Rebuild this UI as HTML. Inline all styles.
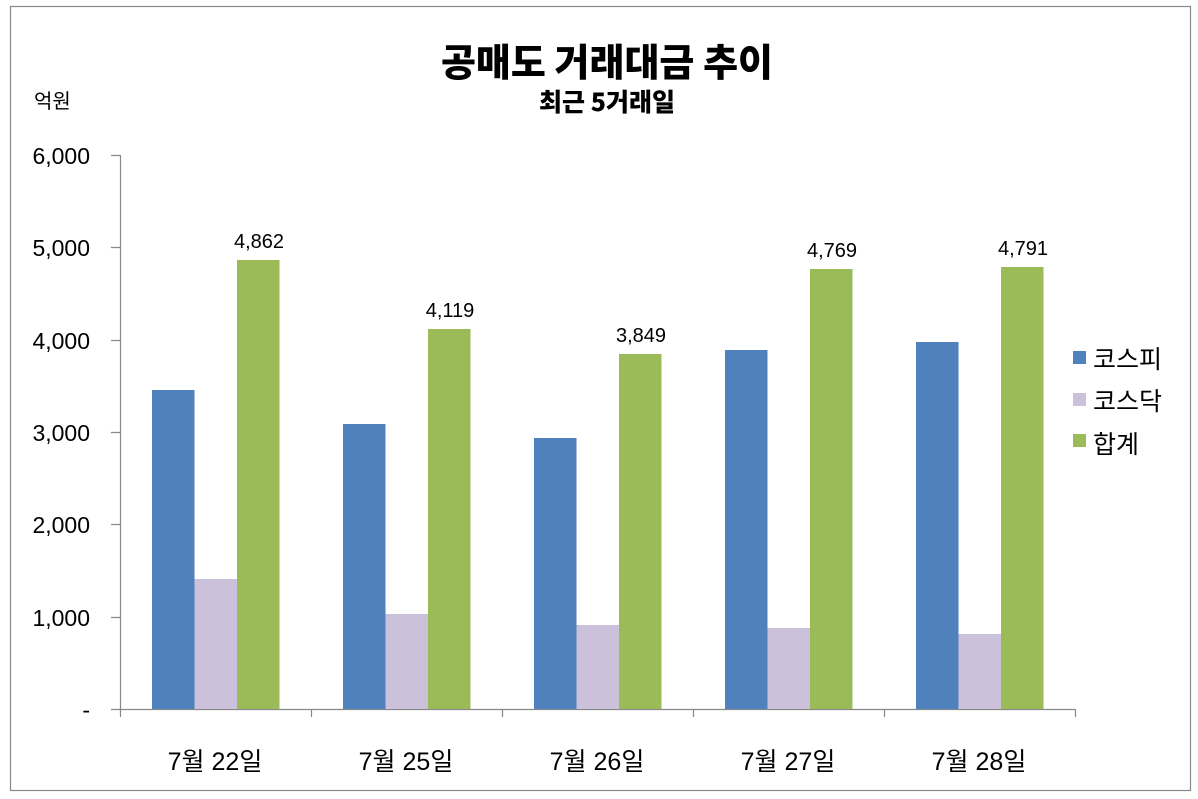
<!DOCTYPE html><html><head><meta charset="utf-8"><style>body{margin:0;background:#fff}svg{display:block}</style></head><body>
<svg width="1198" height="799" xmlns="http://www.w3.org/2000/svg" font-family="'Liberation Sans','Noto Sans CJK KR',sans-serif">
<rect x="10.5" y="6.5" width="1180" height="784" fill="#fff" stroke="#888" stroke-width="1.2"/>
<text x="607" y="76" text-anchor="middle" font-size="38" font-weight="900" font-family="'Noto Sans CJK KR',sans-serif">공매도 거래대금 추이</text>
<text x="607" y="111" text-anchor="middle" font-size="25" font-weight="900" font-family="'Noto Sans CJK KR',sans-serif">최근 5거래일</text>
<text x="34" y="108" font-size="20" font-family="'Noto Sans CJK KR',sans-serif">억원</text>
<g stroke="#888" stroke-width="1.2" fill="none">
<path d="M120.5 155V709.5H1075"/>
<path d="M111 155.5H120M111 247.5H120M111 340.5H120M111 432.5H120M111 524.5H120M111 617.5H120M111 709.5H120"/>
<path d="M120.5 709V717M311.5 709V717M502.5 709V717M693.5 709V717M884.5 709V717M1075.5 709V717"/>
</g>
<g font-size="23" text-anchor="end">
<text x="90" y="164">6,000</text><text x="90" y="256">5,000</text><text x="90" y="349">4,000</text><text x="90" y="441">3,000</text><text x="90" y="533">2,000</text><text x="90" y="626">1,000</text><text x="90" y="718">-</text>
</g>
<g>
<rect x="152" y="390" width="42.5" height="319" fill="#4F81BD"/><rect x="194.5" y="579" width="42.5" height="130" fill="#CCC1DA"/><rect x="237" y="260" width="42.5" height="449" fill="#9BBB59"/>
<rect x="343" y="424" width="42.5" height="285" fill="#4F81BD"/><rect x="385.5" y="614" width="42.5" height="95" fill="#CCC1DA"/><rect x="428" y="329" width="42.5" height="380" fill="#9BBB59"/>
<rect x="534" y="438" width="42.5" height="271" fill="#4F81BD"/><rect x="576.5" y="625" width="42.5" height="84" fill="#CCC1DA"/><rect x="619" y="354" width="42.5" height="355" fill="#9BBB59"/>
<rect x="725" y="350" width="42.5" height="359" fill="#4F81BD"/><rect x="767.5" y="628" width="42.5" height="81" fill="#CCC1DA"/><rect x="810" y="269" width="42.5" height="440" fill="#9BBB59"/>
<rect x="916" y="342" width="42.5" height="367" fill="#4F81BD"/><rect x="958.5" y="634" width="42.5" height="75" fill="#CCC1DA"/><rect x="1001" y="267" width="42.5" height="442" fill="#9BBB59"/>
</g>
<g font-size="20" text-anchor="middle">
<text x="259" y="248">4,862</text><text x="450" y="317">4,119</text><text x="641" y="342">3,849</text><text x="832" y="257">4,769</text><text x="1023" y="255">4,791</text>
</g>
<g font-size="25" text-anchor="middle">
<text x="215" y="770">7월 22일</text><text x="406" y="770">7월 25일</text><text x="597" y="770">7월 26일</text><text x="788" y="770">7월 27일</text><text x="979" y="770">7월 28일</text>
</g>
<g font-size="25" font-family="'Noto Sans CJK KR',sans-serif">
<rect x="1073" y="351" width="13" height="13" fill="#4F81BD"/><text x="1093" y="368">코스피</text>
<rect x="1073" y="393" width="13" height="13" fill="#CCC1DA"/><text x="1093" y="410">코스닥</text>
<rect x="1073" y="434" width="13" height="13" fill="#9BBB59"/><text x="1093" y="453">합계</text>
</g>
</svg></body></html>
